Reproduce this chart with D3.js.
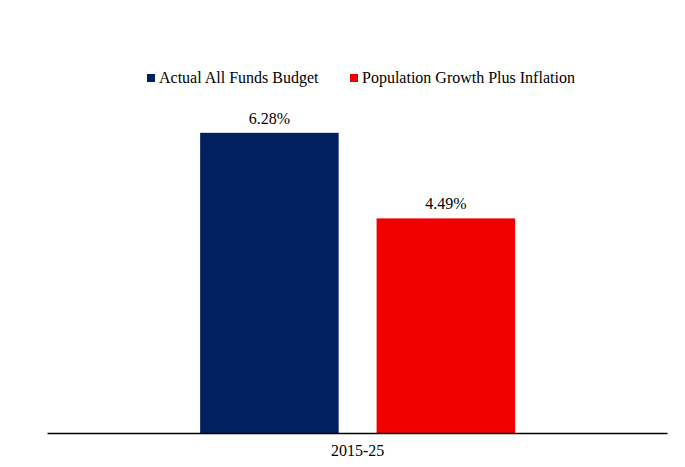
<!DOCTYPE html>
<html>
<head>
<meta charset="utf-8">
<script src="https://cdn.jsdelivr.net/npm/d3@7"></script>
<style>
  body { margin: 0; background: #fff; }
  svg text { font-family: "Times New Roman", "Liberation Serif", Tinos, "DejaVu Serif", serif; fill: #000; }
</style>
</head>
<body>
<svg id="chart"></svg>
<script>
// chart data
var categories = ["2015-25"];
var seriesNames = ["Actual All Funds Budget", "Population Growth Plus Inflation"];
var seriesColors = ["#002060", "#f00000"];
var seriesValues = [[6.28], [4.49]];

var width = 685, height = 467;
var serif = "'Times New Roman', 'Liberation Serif', Tinos, 'DejaVu Serif', serif";
var svg = d3.select("#chart").attr("width", width).attr("height", height);

// plot area
var margin = { left: 47, right: 18, top: 50, bottom: 34 };
var baseY = height - margin.bottom;

var x0 = d3.scaleBand()
  .domain(categories)
  .range([margin.left, width - margin.right]);

var x1 = d3.scaleBand()
  .domain(seriesNames)
  .range([x0.bandwidth() * 0.247, x0.bandwidth() * 0.755])
  .paddingInner(0.215);

var y = d3.scaleLinear()
  .domain([0, 8])
  .range([baseY, baseY - 8 * 47.8]);

// bars
var groups = svg.append("g").attr("class", "data")
  .selectAll("g").data(categories)
  .enter().append("g")
  .attr("transform", function(d) { return "translate(" + x0(d) + ",0)"; });

groups.selectAll("rect")
  .data(function(d, ci) {
    return seriesNames.map(function(s, si) { return { name: s, value: seriesValues[si][ci], color: seriesColors[si] }; });
  })
  .enter().append("rect")
  .attr("x", function(d) { return x1(d.name); })
  .attr("y", function(d) { return y(d.value); })
  .attr("width", x1.bandwidth())
  .attr("height", function(d) { return y(0) - y(d.value); })
  .attr("fill", function(d) { return d.color; });

// value labels
groups.selectAll("text.value")
  .data(function(d, ci) {
    return seriesNames.map(function(s, si) { return { name: s, value: seriesValues[si][ci] }; });
  })
  .enter().append("text")
  .attr("class", "value")
  .attr("x", function(d) { return x1(d.name) + x1.bandwidth() / 2; })
  .attr("y", function(d) { return y(d.value) - 9; })
  .attr("text-anchor", "middle")
  .attr("font-family", serif)
  .style("font-size", "16px")
  .text(function(d) { return d.value.toFixed(2) + "%"; });

// x axis
var xAxis = d3.axisBottom(x0).tickSize(0).tickPadding(12);
var axisG = svg.append("g")
  .attr("class", "x-axis")
  .attr("transform", "translate(0," + baseY + ")")
  .attr("font-family", serif)
  .call(xAxis);
axisG.select(".domain").attr("stroke", "#000").attr("stroke-width", 1.3);
axisG.selectAll("text")
  .style("font-family", serif)
  .style("font-size", "16px")
  .attr("fill", "#000");
axisG.selectAll("text").attr("x", x1("Actual All Funds Budget") + (x1("Population Growth Plus Inflation") + x1.bandwidth() - x1("Actual All Funds Budget")) / 2 - x0.bandwidth() / 2);

// legend
var legendX = [147, 350];
var legend = svg.append("g").attr("class", "legend")
  .selectAll("g").data(seriesNames)
  .enter().append("g")
  .attr("transform", function(d, i) { return "translate(" + legendX[i] + ",74)"; });

legend.append("rect")
  .attr("width", 8).attr("height", 8)
  .attr("fill", function(d, i) { return seriesColors[i]; });

legend.append("text")
  .attr("x", 12).attr("y", 8.5)
  .attr("font-family", serif)
  .style("font-size", "16px")
  .text(function(d) { return d; });
</script>
</body>
</html>
